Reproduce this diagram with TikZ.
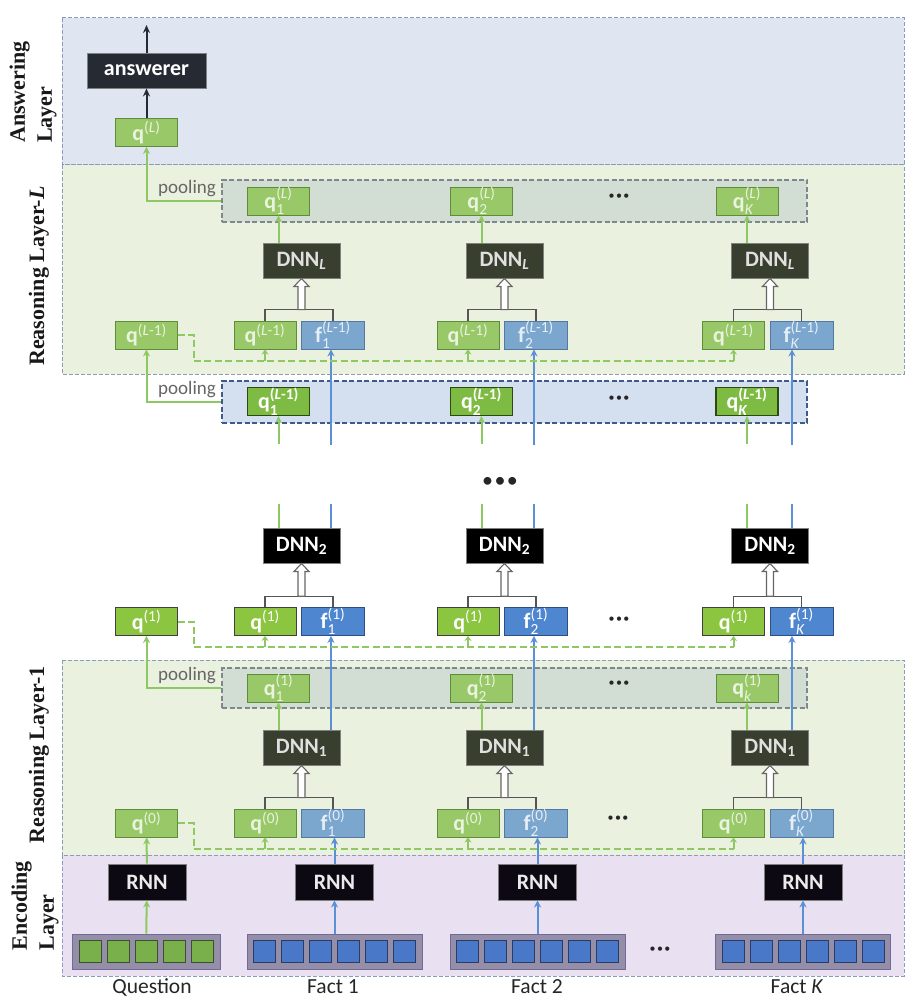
\documentclass[tikz,border=0pt]{standalone}
\usepackage{fontspec}
\usepackage{amsmath}
\setmainfont{Carlito}
\newfontfamily\serifb{Liberation Serif}
\usetikzlibrary{arrows.meta,calc}
\definecolor{ansbg}{HTML}{DFE6F2}
\definecolor{reabg}{HTML}{EBF1DF}
\definecolor{encbg}{HTML}{E9E1F1}
\definecolor{layerb}{HTML}{8C9CB8}
\definecolor{poolg}{HTML}{D2DED3}
\definecolor{poolgb}{HTML}{7E868E}
\definecolor{poolb}{HTML}{D4DFF0}
\definecolor{poolbb}{HTML}{3E5B8A}
\definecolor{qLc}{HTML}{98C867}
\definecolor{qLb}{HTML}{5E8C3A}
\definecolor{qLt}{HTML}{EAF3DF}
\definecolor{qWc}{HTML}{8CC640}
\definecolor{qWb}{HTML}{404040}
\definecolor{qPc}{HTML}{7DBB42}
\definecolor{qPb}{HTML}{2B4A12}
\definecolor{fLc}{HTML}{7BA6CE}
\definecolor{fLb}{HTML}{5577A0}
\definecolor{fLt}{HTML}{E6EEF6}
\definecolor{fWc}{HTML}{4F86D0}
\definecolor{fWb}{HTML}{2E4F80}
\definecolor{dnnD}{HTML}{393F2E}
\definecolor{answc}{HTML}{252A33}
\definecolor{rnnc}{HTML}{0D0913}
\definecolor{gline}{HTML}{8DC862}
\definecolor{bline}{HTML}{5B8FD6}
\definecolor{tokbg}{HTML}{958EA8}
\definecolor{tokbb}{HTML}{706C96}
\definecolor{tokg}{HTML}{79B04C}
\definecolor{tokgb}{HTML}{3C5030}
\definecolor{tokb}{HTML}{4A78C8}
\definecolor{tokbk}{HTML}{2B3B66}
\definecolor{forkc}{HTML}{555555}
\newcommand\qsup[1]{q$^{\text{\mdseries #1}}$}
\newcommand\qsub[2]{q$^{\text{\mdseries #2}}_{\text{\mdseries #1}}$}
\newcommand\qsubb[2]{q$^{\text{#2}}_{\text{#1}}$}
\newcommand\fsub[2]{f$^{\text{\mdseries #2}}_{\text{\mdseries #1}}$}
\newcommand\threedots{\textbullet\hspace{1.5pt}\textbullet\hspace{1.5pt}\textbullet}
\newcommand\hollowup[2]{\draw[hollowst] let \p1=(#1), \p2=(#2) in
  (\x2-3.5pt,\y1) -- (\x2-3.5pt,\y2-8pt) -- (\x2-7.5pt,\y2-8pt) -- (\x2,\y2)
  -- (\x2+7.5pt,\y2-8pt) -- (\x2+3.5pt,\y2-8pt) -- (\x2+3.5pt,\y1) -- cycle;}
\begin{document}
\begin{tikzpicture}[x=1pt,y=-1pt,
  box/.style={draw, line width=0.9pt, inner sep=0pt, minimum height=28pt,
    font=\fontsize{22}{24}\selectfont\bfseries},
  qin/.style={box, fill=qLc, draw=qLb, text=qLt, minimum width=62pt},
  qout/.style={box, fill=qWc, draw=qWb, text=white, minimum width=62pt},
  qpool/.style={box, fill=qPc, draw=qPb, text=white, minimum width=62pt, line width=1.3pt},
  fin/.style={box, fill=fLc, draw=fLb, text=fLt, minimum width=63pt},
  fout/.style={box, fill=fWc, draw=fWb, text=white, minimum width=63pt},
  dnnd/.style={box, fill=dnnD, draw=gray, text=white!88!black, minimum width=77pt, minimum height=35pt},
  dnnk/.style={box, fill=black, draw=gray, text=white, minimum width=77pt, minimum height=35pt},
  answbox/.style={box, fill=answc, draw=gray, text=white, minimum width=119pt, minimum height=35pt},
  rnnbox/.style={box, fill=rnnc, draw=gray, text=white!92!black, minimum width=78pt, minimum height=36pt},
  tokbox/.style={draw=tokbb, fill=tokbg, line width=1pt, minimum width=175pt, minimum height=35pt, inner sep=0pt},
  tg/.style={draw=tokgb, fill=tokg, line width=0.8pt, minimum width=22pt, minimum height=22pt, inner sep=0pt},
  tb/.style={draw=tokbk, fill=tokb, line width=0.8pt, minimum width=22pt, minimum height=22pt, inner sep=0pt},
  poolgbox/.style={draw=poolgb, fill=poolg, dashed, dash pattern=on 5pt off 2.5pt, line width=1.1pt, minimum width=585pt, inner sep=0pt},
  poolbbox/.style={draw=poolbb, fill=poolb, dashed, dash pattern=on 5pt off 2.5pt, line width=1.2pt, minimum width=585pt, inner sep=0pt},
  layer/.style={draw=layerb, dash pattern=on 4pt off 2pt, line width=1pt},
  poolt/.style={font=\fontsize{19}{21}\selectfont, text=black!60, inner sep=0pt},
  lab/.style={font=\fontsize{21.5}{24}\selectfont, text=black!85, inner sep=0pt},
  lay/.style={rotate=90, font=\serifb\bfseries\fontsize{22}{27}\selectfont, align=left, inner sep=0pt, text=black!90},
  dots/.style={font=\fontsize{12}{12}\selectfont, inner sep=0pt, text=black!85},
  garrow/.style={draw=gline, line width=2pt, -{Stealth[length=7pt,width=7pt]}},
  garrowsm/.style={draw=gline, line width=2pt, -{Stealth[length=5pt,width=7pt]}},
  gplain/.style={draw=gline, line width=2pt},
  barrow/.style={draw=bline, line width=2pt, -{Stealth[length=7pt,width=7pt]}},
  bplain/.style={draw=bline, line width=2pt},
  gdash/.style={draw=gline, line width=2pt, dash pattern=on 7pt off 3.5pt},
  darrow/.style={draw=answc, line width=2pt, -{Stealth[length=8pt,width=7pt]}},
  fork/.style={draw=forkc, line width=1.1pt},
  hollowst/.style={draw=black!60, fill=white, line width=1.1pt}
]
\useasboundingbox (0,0) rectangle (918,1008);
\fill[white] (0,0) rectangle (918,1008);
% layers
\fill[ansbg] (62,18) rectangle (904,165);
\draw[layer] (62,18) rectangle (904,165);
\fill[reabg] (62,165) rectangle (904,374);
\draw[layer] (62,165) rectangle (904,374);
\fill[reabg] (62,660) rectangle (904,855);
\draw[layer] (62,660) rectangle (904,855);
\fill[encbg] (62,855) rectangle (904,976);
\draw[layer] (62,855) rectangle (904,976);
% layer labels
\node[lay] (labA) at (33,92) {Answering\\Layer};
\node[lay] (labRL) at (39,276) {Reasoning Layer-\textit{L}};
\node[lay] (labR1) at (39,755) {Reasoning Layer-1};
\node[lay] (labE) at (35,906) {Encoding\\Layer};
% pooling boxes
\node[poolgbox, minimum height=42pt] (poolL) at (514.5,201) {};
\node[poolbbox, minimum height=42pt] (poolLm) at (514.5,402) {};
\node[poolgbox, minimum height=40pt] (pool1) at (514.5,688) {};
\node[poolt] (ptL) at (187,189) {pooling};
\node[poolt] (ptLm) at (187,390) {pooling};
\node[poolt] (pt1) at (187,676) {pooling};
% level coordinates
\coordinate (dLy) at (0,361);
\coordinate (d1y) at (0,647);
\coordinate (d0y) at (0,849);
\coordinate (out) at (146.5,25);
% question column
\node[answbox] (ans) at (146.5,70.5) {answerer};
\node[qin] (qL0) at (146.5,132.5) {\qsup{(\textit{L})}};
\node[qin] (qLm0) at (146.5,335) {\qsup{(\textit{L}-1)}};
\node[qout] (q10) at (146.5,621.5) {\qsup{(1)}};
\node[qin] (q00) at (146.5,823) {\qsup{(0)}};
\node[rnnbox] (rnn0) at (147,882) {RNN};
\node[tokbox, minimum width=148pt] (tok0) at (146,951.5) {};
\foreach \k in {0,...,4}{
  \node[tg] (tq\k) at (146.5+\k*28-56,951.5) {};
}
\draw[darrow] (qL0) -- (ans);
\draw[darrow] (ans) -- (out);
\draw[garrow] (poolL.west) -| (qL0.south);
\draw[garrow] (poolLm.west) -| (qLm0.south);
\draw[garrow] (pool1.west) -| (q10.south);
\draw[garrow] (rnn0) -- (q00);
\draw[garrow] (tok0) -- (rnn0);
% fact columns
\foreach \X/\nm/\b/\s/\sk in {265/1/66/1/1, 468/2/66/2/2, 733.5/K/58.5/\textit{K}/\textit{k}}{
  \node[qin] (pL\nm) at (\X+13.5,201) {\qsub{\s}{(\textit{L})}};
  \node[dnnd] (dL\nm) at (\X+36.5,260.5) {DNN$_{\text{\textit{L}}}$};
  \node[qin] (qLm\nm) at (\X,335) {\qsup{(\textit{L}-1)}};
  \node[fin] (fLm\nm) at (\X+68,335) {\fsub{\s}{(\textit{L}-1)}};
  \node[qpool] (pLm\nm) at (\X+13.5,401.5) {\qsubb{\s}{(\textit{L}-1)}};
  \node[dnnk] (d2\nm) at (\X+36.5,545.5) {DNN$_{\text{2}}$};
  \node[qout] (q1\nm) at (\X,621.5) {\qsup{(1)}};
  \node[fout] (f1\nm) at (\X+68,621.5) {\fsub{\s}{(1)}};
  \node[qin] (p1\nm) at (\X+13.5,688) {\qsub{\sk}{(1)}};
  \node[dnnd] (d1\nm) at (\X+36.5,747.5) {DNN$_{\text{1}}$};
  \node[qin] (q0\nm) at (\X,823) {\qsup{(0)}};
  \node[fin] (f0\nm) at (\X+68,823) {\fsub{\s}{(0)}};
  \node[rnnbox] (rnn\nm) at (\X+69.5,882) {RNN};
  \node[tokbox] (tok\nm) at (\X+69.5,951.5) {};
  \foreach \k in {0,...,5}{
    \node[tb] (t\nm\k) at (\X+69.5+\k*28-70,951.5) {};
  }
  \coordinate (kL\nm) at ($(qLm\nm.north)+(0,-11)$);
  \coordinate (k2\nm) at ($(q1\nm.north)+(0,-11)$);
  \coordinate (k1\nm) at ($(q0\nm.north)+(0,-11)$);
  \coordinate (bt\nm) at (\X+\b,445);
  \coordinate (gt\nm) at (\X+13.5,444);
  \coordinate (bb\nm) at (\X+\b,504);
  \coordinate (gb\nm) at (\X+13.5,504);
  % layer L
  \draw[garrow] (pL\nm.south |- dL\nm.north) -- (pL\nm.south);
  \draw[fork] (qLm\nm.north) -- (kL\nm) -| (fLm\nm.north);
  \hollowup{kL\nm}{dL\nm.south}
  \draw[garrowsm] (qLm\nm.south |- dLy) -- (qLm\nm.south);
  \draw[barrow] (bt\nm) -- (bt\nm |- fLm\nm.south);
  \draw[garrow] (gt\nm) -- (pLm\nm.south);
  % middle stubs
  \draw[gplain] (gb\nm) -- (gb\nm |- d2\nm.north);
  \draw[bplain] (bb\nm) -- (bb\nm |- d2\nm.north);
  \draw[fork] (q1\nm.north) -- (k2\nm) -| (f1\nm.north);
  \hollowup{k2\nm}{d2\nm.south}
  \draw[garrowsm] (q1\nm.south |- d1y) -- (q1\nm.south);
  % layer 1
  \draw[garrow] (p1\nm.south |- d1\nm.north) -- (p1\nm.south);
  \draw[barrow] (bb\nm |- d1\nm.north) -- (bb\nm |- f1\nm.south);
  \draw[fork] (q0\nm.north) -- (k1\nm) -| (f0\nm.north);
  \hollowup{k1\nm}{d1\nm.south}
  \draw[garrowsm] (q0\nm.south |- d0y) -- (q0\nm.south);
  \draw[barrow] (rnn\nm) -- (rnn\nm |- f0\nm.south);
  \draw[barrow] (tok\nm) -- (rnn\nm);
}
% dashed broadcast lines
\draw[gdash] (qLm0.east) -- ++(16,0) |- (qLmK.south |- dLy);
\draw[gdash] (q10.east) -- ++(16,0) |- (q1K.south |- d1y);
\draw[gdash] (q00.east) -- ++(16,0) |- (q0K.south |- d0y);
% ellipses
\node[dots] (e1) at (619,197) {\threedots};
\node[dots] (e2) at (619,399) {\threedots};
\node[dots, font=\fontsize{22}{22}\selectfont] (e3) at (500,482) {\threedots};
\node[dots] (e4) at (619,620) {\threedots};
\node[dots] (e5) at (619,684) {\threedots};
\node[dots] (e6) at (618,819) {\threedots};
\node[dots] (e7) at (660,950) {\threedots};
% bottom labels
\node[lab] (lab0) at (152,987) {Question};
\node[lab] (lab1) at (333,987) {Fact 1};
\node[lab] (lab2) at (537,987) {Fact 2};
\node[lab] (labK) at (797,987) {Fact \textit{K}};
\end{tikzpicture}
\end{document}
